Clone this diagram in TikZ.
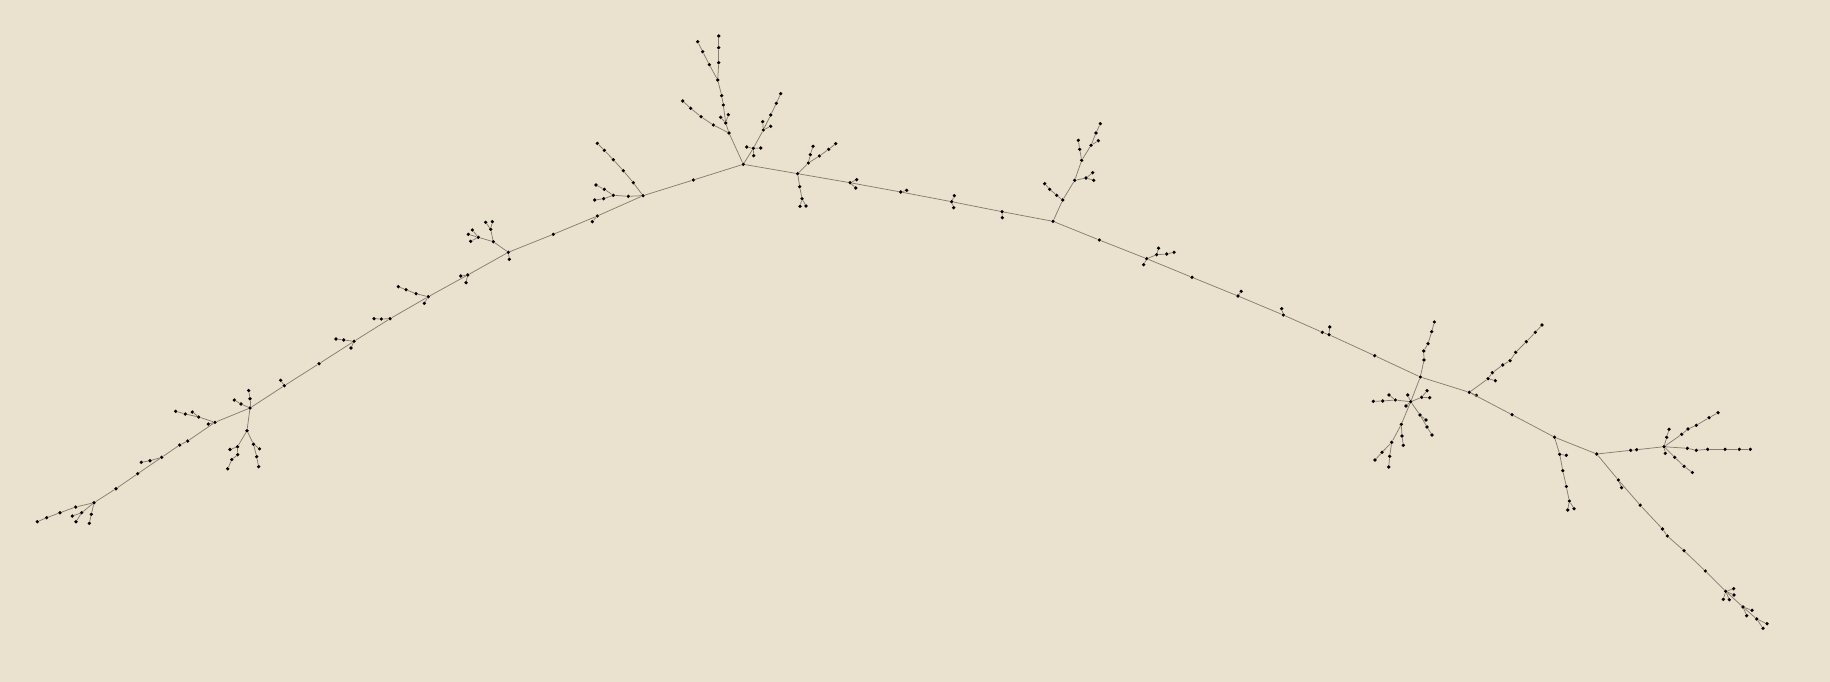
\documentclass[tikz,border=0pt]{standalone}
\definecolor{bg}{RGB}{235,225,207}
\definecolor{edgec}{RGB}{135,126,112}
\tikzset{dot/.style={circle,fill=black,inner sep=0pt,minimum size=3.6pt},
 link/.style={draw=edgec,line width=0.75pt}}
\begin{document}
\begin{tikzpicture}[x=1pt,y=-1pt]
\fill[bg] (0,0) rectangle (1830,682);
\useasboundingbox (0,0) rectangle (1830,682);
\foreach \n/\x/\y in {
l1/37.3/521.7, l2/46.7/517.7, l3/60/512.7, l4/75.7/507, h1/94/502.7,
l5/81.7/512.7, l6/72.3/516, l7/76/521.7, l8/91.3/514.3, l9/89.3/523.3,
m1/116/488.7, m2/137.7/473.7, m3/161.7/457.3, m3a/150/460.7, m3b/141.3/462.3,
m4/179.7/445, m5/187.7/441, m6/215/422.3, m6a/208.3/424, m6b/198.7/417, m6c/192.3/412, m6d/185.3/414, m6e/175.7/411.3,
h2/250/408, h2a/241/404, h2b/234.3/400, h2c/250/398.7, h2d/248.7/390.5,
h2e/247/430.7, h2f/237.5/446.7, h2g/230/449.5, h2h/237.7/454.7, h2i/231.8/459.5, h2j/227.7/468.8, h2k/253.5/444.2, h2l/259.5/448.8, h2m/256.7/456.7, h2n/258.7/466.7,
m7/284.3/385.7, m7a/280.7/380.3, m8/319/363.7,
m9/354/341.3, m9a/351/348, m9b/343.7/340, m9c/336/339,
m10/390/318.7, m10a/381.3/319, m10b/374/318.7,
m11/428.3/296.7, m11a/424.3/303.3, m11b/416/293.7, m11c/406/289.7, m11d/398.3/286.7,
m12/467.7/275, m12a/460.7/276, m12b/466/282.7,
h3/508.3/252.3, h3a/509.3/259.3, h3b/493.3/241.7, h3c/478.3/237.3, h3d/472.3/230, h3e/468.3/234.3, h3f/470.7/241.3, h3g/490.7/229.3, h3h/485.7/222.3, h3i/492.3/221.7,
m13/553.3/234.3, m14/597.3/216, m14a/592.3/221.7,
h4/643/195.7, h4a/628.3/196.3, h4b/613.3/195.3, h4c/604.3/189.3, h4d/596/185, h4e/603.7/198.7, h4f/594.7/200, h4g/633.3/182.7, h4h/623.3/170.7, h4i/613.3/159.7, h4j/604.3/150.3, h4k/597.3/143.3,
m15/693.3/180,
h5/743.3/164.3, h5a/729/133, h5b/725.7/123, h5c/728.3/114.7, h5d/720.7/117.3, h5e/723.3/105, h5f/721.7/95.7, h5g/717.7/80, h5h/718.7/62.7, h5i/718.7/47.7, h5j/718.7/36, h5k/709.3/64.7, h5l/702.7/51.7, h5m/697.7/41.7,
h5n/713.3/125, h5o/701/116.7, h5p/690.7/108.3, h5q/682.7/101,
h5r/753.3/148.3, h5s/746.7/147, h5t/760.7/148, h5u/753.7/155.7,
h5v/763.3/130, h5w/770.7/126.3, h5x/762.7/121.7, h5y/770.7/115, h5z/776.3/103.3, h5za/780.7/93.7,
h6/797.7/173.7, h6a/799.7/186.7, h6b/802/198.7, h6c/800/206.3, h6d/806/206, h6e/808.3/163, h6f/810.3/154.7, h6g/813/146.3, h6h/819.3/156, h6i/828.7/149.3, h6j/835.7/143.7,
m16/850/182.7, m16a/856.7/179.7, m16b/855.7/188,
m17/900.7/192, m17a/906.7/190.3,
m18/951.7/201.7, m18a/954.3/195.7, m18b/953.7/207.7,
m19/1002/211.7, m19a/1002.3/217.7,
h7/1053/221.3, h7a/1062.7/200, h7b/1056.7/195.3, h7c/1049.7/189.3, h7d/1044.7/183.7, h7e/1074.7/180.3, h7f/1086/178, h7g/1092.7/172.7, h7h/1093.7/180.3, h7i/1081.7/160.3, h7j/1079.7/149.3, h7k/1078.3/140.3, h7l/1091/145.3, h7m/1098.3/140.7, h7n/1096/133, h7o/1100.3/123.7,
m20/1099.3/240,
m21/1146.7/258.7, m21a/1143.7/264.7, m21b/1156.7/254.7, m21c/1158.5/248.2, m21d/1166.7/254, m21e/1174/252.3,
m22/1192/277.3, m23/1238/296, m23a/1241.2/291.3, m24/1283.3/315, m24a/1281.7/308.7,
m25/1322.3/332.3, m25a/1329/334.7, m25b/1329.7/327, m26/1374.7/355.7,
hA/1420.3/377, hAa/1424/360, hAb/1423.7/351, hAc/1428/343.7, hAd/1431.7/331.7, hAe/1434.3/322,
hB/1410.7/401.7, hBa/1407.7/395, hBb/1406/406, hBc/1395.3/400, hBd/1389/395, hBe/1382.7/401, hBf/1373.3/401.3, hBg/1421.7/397.3, hBh/1427/390.7, hBi/1429.7/397.7, hBj/1420/415, hBk/1426/420, hBl/1427/427, hBm/1432/435, hBn/1401.3/424.3, hBo/1402/436, hBp/1403.3/445.3, hBq/1391.7/442.3, hBr/1382/452.3, hBs/1375/460, hBt/1389.7/456.3, hBu/1388.7/467,
hC/1469.3/392.3, hCa/1476.3/395.3, hCb/1488/378.7, hCc/1495.3/380.7, hCd/1492.3/372.7, hCe/1502.7/365, hCf/1510/360.7, hCg/1515.7/352.3, hCh/1526.3/341.7, hCi/1535.3/332.3, hCj/1542/325,
m27/1512/414.7,
hD/1554.5/437.2, hDa/1559.7/454.3, hDb/1566.3/455.3, hDc/1562.8/470.7, hDd/1566.3/486.5, hDe/1569.3/501, hDf/1567.7/510, hDg/1574/508.7,
hE/1596.7/454, m28/1630.7/450.3, m29/1636.7/449.7,
hF/1664/446.7, hFa/1666.7/437.3, hFb/1669/429.3, hFc/1665.3/453.3, hFd/1681.7/434.3, hFe/1688/429, hFf/1696.3/425.3, hFg/1709/417.7, hFh/1718/412.7, hFi/1687.3/448.3, hFj/1696.3/450.3, hFk/1707.7/449.3, hFl/1725/449.3, hFm/1739.3/449.3, hFn/1750.3/449.3, hFo/1674.7/457.3, hFp/1684/466.3, hFq/1692.3/472.5,
r1/1618.3/480, r1a/1621.5/487.7, r2/1640.2/505.2, r3/1662.5/529, r4/1667.3/536, r5/1684/550.7, r6/1705.3/571, r7/1725.7/591.3, r7a/1733.7/588.7, r7b/1734/595, r7c/1723.3/599.3, r7d/1729.3/599.7, r8/1743/607, r8a/1752/610.3, r8b/1746.7/615.7, r9/1756.7/619, r9a/1767/623.7, r9b/1763/628.3}
{\node[dot] (\n) at (\x,\y) {};}
\foreach \a/\b in {
l1/l2, l2/l3, l3/l4, l4/h1, h1/l5, l5/l6, l5/l7, h1/l8, l8/l9, h1/m1, m1/m2, m2/m3, m3/m3a, m3a/m3b, m3/m4, m4/m5, m5/m6, m6/m6a, m6/m6b, m6b/m6c, m6b/m6d, m6d/m6e, m6/h2,
h2/h2a, h2a/h2b, h2/h2c, h2c/h2d, h2/h2e, h2e/h2f, h2f/h2g, h2f/h2h, h2h/h2i, h2i/h2j, h2e/h2k, h2k/h2l, h2k/h2m, h2m/h2n,
h2/m7, m7/m7a, m7/m8, m8/m9, m9/m9a, m9/m9b, m9b/m9c, m9/m10, m10/m10a, m10a/m10b, m10/m11, m11/m11a, m11/m11b, m11b/m11c, m11c/m11d, m11/m12, m12/m12a, m12/m12b, m12/h3,
h3/h3a, h3/h3b, h3b/h3c, h3c/h3d, h3c/h3e, h3c/h3f, h3b/h3g, h3g/h3h, h3g/h3i, h3/m13, m13/m14, m14/m14a, m14/h4,
h4/h4a, h4a/h4b, h4b/h4c, h4c/h4d, h4b/h4e, h4e/h4f, h4/h4g, h4g/h4h, h4h/h4i, h4i/h4j, h4j/h4k, h4/m15, m15/h5,
h5/h5a, h5a/h5b, h5b/h5c, h5b/h5d, h5b/h5e, h5e/h5f, h5f/h5g, h5g/h5h, h5h/h5i, h5i/h5j, h5g/h5k, h5k/h5l, h5l/h5m, h5a/h5n, h5n/h5o, h5o/h5p, h5p/h5q,
h5/h5r, h5r/h5s, h5r/h5t, h5r/h5u, h5r/h5v, h5v/h5w, h5v/h5x, h5v/h5y, h5y/h5z, h5z/h5za,
h5/h6, h6/h6a, h6a/h6b, h6b/h6c, h6b/h6d, h6/h6e, h6e/h6f, h6f/h6g, h6e/h6h, h6h/h6i, h6i/h6j,
h6/m16, m16/m16a, m16/m16b, m16/m17, m17/m17a, m17/m18, m18/m18a, m18/m18b, m18/m19, m19/m19a, m19/h7,
h7/h7a, h7a/h7b, h7b/h7c, h7c/h7d, h7a/h7e, h7e/h7f, h7f/h7g, h7f/h7h, h7e/h7i, h7i/h7j, h7j/h7k, h7i/h7l, h7l/h7m, h7l/h7n, h7n/h7o,
h7/m20, m20/m21, m21/m21a, m21/m21b, m21b/m21c, m21b/m21d, m21d/m21e, m21/m22, m22/m23, m23/m23a, m23/m24, m24/m24a, m24/m25, m25/m25a, m25a/m25b, m25a/m26,
m26/hA, hA/hAa, hAa/hAb, hAb/hAc, hAc/hAd, hAd/hAe,
hA/hB, hB/hBa, hB/hBb, hB/hBc, hBc/hBd, hBc/hBe, hBe/hBf, hB/hBg, hBg/hBh, hBg/hBi, hB/hBj, hBj/hBk, hBj/hBl, hBl/hBm, hB/hBn, hBn/hBo, hBo/hBp, hBn/hBq, hBq/hBr, hBr/hBs, hBq/hBt, hBt/hBu,
hA/hC, hC/hCa, hC/hCb, hCb/hCc, hCb/hCd, hCd/hCe, hCe/hCf, hCf/hCg, hCg/hCh, hCh/hCi, hCi/hCj,
hC/m27, m27/hD, hD/hDa, hDa/hDb, hDa/hDc, hDc/hDd, hDd/hDe, hDe/hDf, hDe/hDg,
hD/hE, hE/m28, m28/m29, m29/hF, hF/hFa, hFa/hFb, hF/hFc, hF/hFd, hFd/hFe, hFe/hFf, hFf/hFg, hFg/hFh, hF/hFi, hFi/hFj, hFj/hFk, hFk/hFl, hFl/hFm, hFm/hFn, hF/hFo, hFo/hFp, hFp/hFq,
hE/r1, r1/r1a, r1/r2, r2/r3, r3/r4, r4/r5, r5/r6, r6/r7, r7/r7a, r7/r7b, r7/r7c, r7/r7d, r7/r8, r8/r8a, r8/r8b, r8/r9, r9/r9a, r9/r9b}
{\draw[link] (\a) -- (\b);}
\end{tikzpicture}
\end{document}
